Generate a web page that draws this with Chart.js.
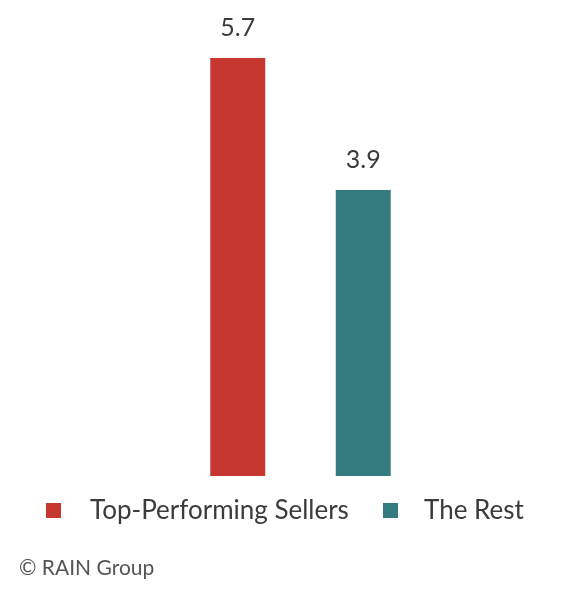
<!DOCTYPE html>
<html>
<head>
<meta charset="utf-8">
<script src="https://cdn.jsdelivr.net/npm/chart.js@4.4.0/dist/chart.umd.min.js"></script>
<style>
  html, body { margin: 0; padding: 0; background: #ffffff; }
  #wrap { position: relative; width: 580px; height: 606px; }
  #c { position: absolute; left: 0; top: 0; }
  .leg { position: absolute; font-family: Lato, sans-serif; font-size: 26px; color: #3b3b3b; white-space: nowrap; line-height: 1; }
  .box { position: absolute; width: 15px; height: 15px; }
  #footer { position: absolute; left: 19px; top: 556px; font-family: Lato, sans-serif; font-size: 21px; color: #555555; white-space: nowrap; line-height: 1; }
</style>
</head>
<body>
<div id="wrap">
  <canvas id="c" width="580" height="606"></canvas>
  <div id="legend"></div>
  <div id="footer"></div>
</div>
<script>
const categories = [""];
const seriesNames = ["Top-Performing Sellers", "The Rest"];
const topSellers = [5.7];
const theRest = [3.9];
const seriesColors = ["#c6372f", "#337b7f"];
const footerText = "© RAIN Group";

const valueLabels = {
  id: 'valueLabels',
  afterDatasetsDraw(chart) {
    const ctx = chart.ctx;
    ctx.save();
    ctx.font = '25px Lato, sans-serif';
    ctx.fillStyle = '#3b3b3b';
    ctx.textAlign = 'center';
    ctx.textBaseline = 'alphabetic';
    chart.data.datasets.forEach((ds, i) => {
      chart.getDatasetMeta(i).data.forEach((bar, j) => {
        ctx.fillText(ds.data[j].toFixed(1), bar.x, bar.y - 22);
      });
    });
    ctx.restore();
  }
};

const chart = new Chart(document.getElementById('c'), {
  type: 'bar',
  data: {
    labels: categories,
    datasets: [
      { label: seriesNames[0], data: topSellers, backgroundColor: seriesColors[0] },
      { label: seriesNames[1], data: theRest, backgroundColor: seriesColors[1] }
    ]
  },
  options: {
    responsive: false,
    animation: false,
    devicePixelRatio: 1,
    layout: { padding: { left: 21, right: 0, top: 36, bottom: 130 } },
    datasets: { bar: { categoryPercentage: 0.449, barPercentage: 0.438 } },
    scales: {
      x: { display: false, grid: { display: false } },
      y: { display: false, min: 0, max: 6, grid: { display: false } }
    },
    plugins: { legend: { display: false }, tooltip: { enabled: false } }
  },
  plugins: [valueLabels]
});

// HTML legend built from dataset names/colours
const legendPos = [ { box: 46, text: 90 }, { box: 383, text: 424 } ];
const legendEl = document.getElementById('legend');
seriesNames.forEach((name, i) => {
  const b = document.createElement('div');
  b.className = 'box';
  b.style.left = legendPos[i].box + 'px';
  b.style.top = '503px';
  b.style.background = seriesColors[i];
  legendEl.appendChild(b);
  const t = document.createElement('div');
  t.className = 'leg';
  t.style.left = legendPos[i].text + 'px';
  t.style.top = '496px';
  t.textContent = name;
  legendEl.appendChild(t);
});
document.getElementById('footer').textContent = footerText;
</script>
</body>
</html>
